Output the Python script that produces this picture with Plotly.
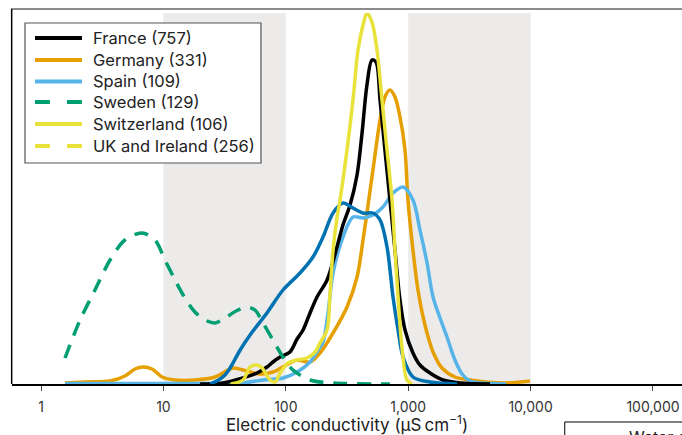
import numpy as np
import plotly.graph_objects as go

# ---- data: log10 of electric conductivity (µS/cm) and relative density (a.u.) ----
fr_logec = [1.30, 1.487, 1.650, 1.765, 1.846, 1.895, 1.953, 2.034, 2.092, 2.141, 2.198, 2.255, 2.337, 2.418,
            2.467, 2.525, 2.582, 2.623, 2.663, 2.704, 2.737, 2.770, 2.810, 2.851, 2.892, 2.933, 2.974,
            3.039, 3.096, 3.178, 3.284, 3.423, 3.668]
fr_dens = [0, 1, 6, 11, 17, 22, 27, 32, 45, 54, 71, 87, 104, 137,
           159, 179, 209, 251, 299, 324, 322, 284, 234, 184, 134, 84, 54,
           31, 19, 11, 4, 1, 0]

de_logec = [0.196, 0.359, 0.564, 0.686, 0.768, 0.833, 0.907, 0.989, 1.095, 1.258, 1.422, 1.569, 1.650,
            1.789, 1.895, 2.034, 2.092, 2.198, 2.279, 2.386, 2.500, 2.582, 2.631, 2.672, 2.712, 2.770,
            2.810, 2.851, 2.892, 2.933, 2.974, 2.998, 3.039, 3.080, 3.137, 3.203, 3.276, 3.382, 3.505,
            3.775, 3.995]
de_dens = [1, 2, 3, 8, 15, 17, 15, 7, 4, 4, 7, 16, 14,
           10, 12, 21, 24, 22, 31, 51, 77, 107, 144, 179, 214, 264,
           287, 294, 287, 267, 234, 184, 134, 94, 59, 32, 16, 7, 4,
           1, 3]

es_logec = [0.196, 1.50, 1.650, 1.814, 1.977, 2.092, 2.198, 2.263, 2.304, 2.345, 2.386, 2.467, 2.549,
            2.631, 2.712, 2.794, 2.876, 2.958, 3.039, 3.096, 3.154, 3.203, 3.260, 3.317, 3.382, 3.440,
            3.505, 3.600, 3.800]
es_dens = [0.5, 0.5, 1, 4, 6, 12, 22, 34, 42, 71, 111, 147, 167,
           166, 169, 177, 191, 197, 184, 154, 121, 87, 66, 47, 24, 10,
           3, 1, 0]

se_logec = [0.196, 0.319, 0.441, 0.564, 0.686, 0.825, 0.931, 1.013, 1.095, 1.176, 1.258, 1.340, 1.422,
            1.503, 1.609, 1.683, 1.748, 1.814, 1.895, 1.977, 2.059, 2.198, 2.386, 2.850]
se_dens = [26, 64, 94, 124, 144, 151, 144, 124, 104, 86, 72, 64, 61,
           66, 74, 77, 74, 61, 44, 27, 14, 4, 1, 0]

ch_logec = [1.55, 1.650, 1.708, 1.765, 1.806, 1.871, 1.912, 1.953, 2.018, 2.092, 2.173, 2.239, 2.279,
            2.337, 2.361, 2.386, 2.418, 2.443, 2.500, 2.549, 2.590, 2.631, 2.663, 2.704, 2.745, 2.786,
            2.827, 2.868, 2.892, 2.908, 2.949, 2.990, 3.031]
ch_dens = [0, 4, 17, 19, 16, 4, 2, 11, 21, 24, 26, 32, 41,
           54, 90, 134, 166, 184, 234, 284, 334, 359, 371, 362, 334, 284,
           234, 184, 134, 104, 37, 4, 0]

uk_logec = [1.381, 1.45, 1.503, 1.545, 1.627, 1.708, 1.846, 1.977, 2.116, 2.222, 2.304, 2.386, 2.467,
            2.549, 2.631, 2.712, 2.770, 2.827, 2.876, 2.917, 2.958, 3.039, 3.178, 3.40]
uk_dens = [0, 4, 9, 16, 34, 49, 71, 94, 111, 127, 147, 171, 181,
           176, 171, 171, 164, 137, 87, 54, 27, 7, 2, 0]

legend_names = ["France (757)", "Germany (331)", "Spain (109)", "Sweden (129)",
                "Switzerland (106)", "UK and Ireland (256)"]
tick_vals = [1, 10, 100, 1000, 10000, 100000]
tick_text = ["1", "10", "100", "1,000", "10,000", "100,000"]
bands = [(10, 100), (1000, 10000)]

C_FR, C_DE, C_ES, C_SE, C_CH, C_UK = "#000000", "#E69F00", "#56B4E9", "#009E73", "#E8E23A", "#0072B2"
FONT = "Inter, Liberation Sans, Arial, sans-serif"
SE_DASH = "14px,10px"

fig = go.Figure()

def add(logec, dens, color, name, dash="solid"):
    fig.add_trace(go.Scatter(
        x=10 ** np.array(logec), y=dens, mode="lines", name=name,
        line=dict(color=color, width=3.5, dash=dash, shape="spline", smoothing=0.9),
        showlegend=False, hoverinfo="skip"))

# drawing order
add(de_logec, de_dens, C_DE, legend_names[1])
add(es_logec, es_dens, C_ES, legend_names[2])
add(fr_logec, fr_dens, C_FR, legend_names[0])
add(se_logec, se_dens, C_SE, legend_names[3], dash=SE_DASH)
add(uk_logec, uk_dens, C_UK, "UK and Ireland")
add(ch_logec, ch_dens, C_CH, legend_names[4])

shapes = []
for a, b in bands:
    shapes.append(dict(type="rect", xref="x", yref="paper", x0=a, x1=b, y0=0, y1=1,
                       fillcolor="#ECEBEA", line=dict(width=0), layer="below"))
# panel border top and left axis line
shapes.append(dict(type="line", xref="paper", yref="paper", x0=-0.0015, x1=1, y0=1.0108, y1=1.0108,
                   line=dict(color="#666666", width=1.5)))
shapes.append(dict(type="line", xref="paper", yref="paper", x0=-0.0005, x1=-0.0005, y0=0, y1=1.0108,
                   line=dict(color="#000000", width=1.5)))
# partial box at bottom right (next panel)
shapes.append(dict(type="rect", xref="paper", yref="paper", x0=0.825, x1=1.05, y0=-0.1024, y1=-0.3,
                   line=dict(color="#000000", width=1)))

# legend (as printed in the original figure)
leg_colors = [C_FR, C_DE, C_ES, C_SE, C_CH, C_CH]
leg_dash = ["solid", "solid", "solid", "15px,17px", "solid", "15px,17px"]
leg_rows = [0.9326, 0.8733, 0.8154, 0.7601, 0.7008, 0.6415]
shapes.append(dict(type="rect", xref="paper", yref="paper", x0=0.0194, x1=0.3716, y0=0.5957, y1=0.973,
                   fillcolor="white", line=dict(color="#555555", width=1.2), layer="above"))
annotations = []
for name, col, dsh, yy in zip(legend_names, leg_colors, leg_dash, leg_rows):
    shapes.append(dict(type="line", xref="paper", yref="paper", x0=0.0343, x1=0.1045, y0=yy, y1=yy,
                       line=dict(color=col, width=4, dash=dsh), layer="above"))
    annotations.append(dict(text=name, xref="paper", yref="paper", x=0.1179, y=yy,
                            xanchor="left", yanchor="middle", showarrow=False,
                            font=dict(size=16.5, family=FONT, color="#222222")))

annotations.append(dict(text="Water quality", xref="paper", yref="paper", x=0.918, y=-0.110,
                        xanchor="left", yanchor="top", showarrow=False,
                        font=dict(size=16, family=FONT, color="#222222")))

fig.update_layout(
    width=682, height=435,
    margin=dict(l=12, r=0, t=13, b=51),
    paper_bgcolor="white", plot_bgcolor="white",
    font=dict(family=FONT, color="#222222"),
    shapes=shapes,
    annotations=annotations,
    showlegend=False,
    xaxis=dict(type="log", range=[-0.237, 5.237], tickvals=tick_vals, ticktext=tick_text,
               showline=True, linecolor="#000000", linewidth=1.5, showgrid=False, zeroline=False,
               ticks="outside", ticklen=5, tickwidth=1, tickcolor="#444444",
               tickfont=dict(size=14, family=FONT, color="#333333"), ticklabelstandoff=4,
               title=dict(text="Electric conductivity (µS\u2009cm<sup>\u22121</sup>)",
                          font=dict(size=17, family=FONT, color="#222222"), standoff=9)),
    yaxis=dict(range=[0, 371], visible=False, fixedrange=True),
)

fig.write_html("out.html")
